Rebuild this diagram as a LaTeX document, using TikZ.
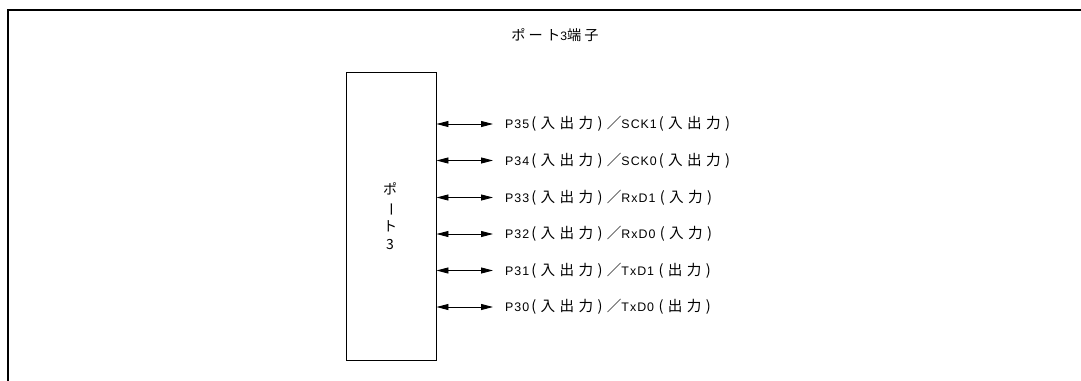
\documentclass[tikz,border=0pt]{standalone}
\usepackage{fontspec}
\setmainfont{Liberation Sans}
\newfontfamily\latinwide[LetterSpace=8]{Liberation Sans}
\newfontfamily\jpfont[LetterSpace=30]{Noto Sans CJK JP}
\newfontfamily\jptitle[LetterSpace=22]{Noto Sans CJK JP}
\newfontfamily\jpplain{Noto Sans CJK JP}
\newcommand{\J}[1]{{\jpfont\fontsize{14.6}{14.6}\selectfont #1}}
\newcommand{\JT}[1]{{\jptitle\fontsize{14.2}{14.2}\selectfont #1}}
\usetikzlibrary{arrows.meta}
\tikzset{
  frameline/.style={line width=2pt},
  portbox/.style={draw, line width=0.9pt, minimum width=90pt, minimum height=288pt, inner sep=0pt},
  arr/.style={line width=0.9pt, {Triangle[length=12pt,width=6pt]}-{Triangle[length=12pt,width=6pt]}},
  pinlabel/.style={anchor=west, inner xsep=12pt, inner ysep=0pt, font=\latinwide\fontsize{12.4}{14}\selectfont},
  titletext/.style={font=\fontsize{12.2}{14}\selectfont, inner sep=0pt}
}
\begin{document}
\begin{tikzpicture}[x=1pt,y=-1pt]
\useasboundingbox (0,0) rectangle (1081,380);
\draw[frameline] (8,381) -- (8,9.5) -- (1082,9.5);
\node[titletext] (title) at (555,35) {\JT{ポート}3\JT{端子}};
\node[portbox] (port) at (391,216) {};
\node[titletext, align=center, font=\jpplain\fontsize{14}{18.5}\selectfont] (portname) at (390,216) {ポ\\\rotatebox[origin=c]{-90}{ー}\\ト\\3};
\node[pinlabel] (p35) at (493,124) {P35\,\J{(入出力)／}SCK1\,\J{(入出力)}};
\node[pinlabel] (p34) at (493,160.5) {P34\,\J{(入出力)／}SCK0\,\J{(入出力)}};
\node[pinlabel] (p33) at (493,197.5) {P33\,\J{(入出力)／}RxD1 \J{(入力)}};
\node[pinlabel] (p32) at (493,234) {P32\,\J{(入出力)／}RxD0 \J{(入力)}};
\node[pinlabel] (p31) at (493,270.5) {P31\,\J{(入出力)／}TxD1 \J{(出力)}};
\node[pinlabel] (p30) at (493,307) {P30\,\J{(入出力)／}TxD0 \J{(出力)}};
\foreach \n in {p35,p34,p33,p32,p31,p30}{
  \draw[arr] (port.east |- \n.west) -- (\n.west);
}
\end{tikzpicture}
\end{document}
